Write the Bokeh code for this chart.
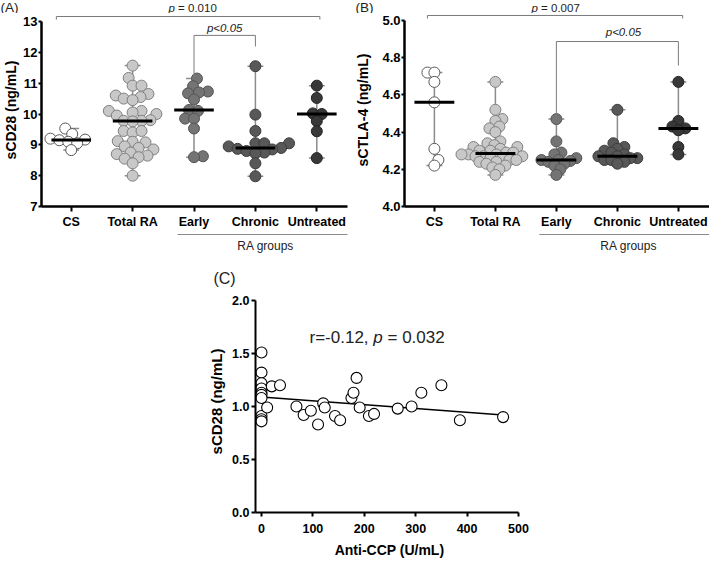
import numpy as np
from bokeh.plotting import figure
from bokeh.models import FixedTicker, PrintfTickFormatter, Label, Range1d, Spacer
from bokeh.layouts import column, row
from bokeh.embed import file_html
from bokeh.resources import INLINE

# ---------------- data ----------------
CATEGORIES = ["CS", "Total RA", "Early", "Chronic", "Untreated"]

# Panel A: sCD28 (ng/mL)
A_CS = [9.53, 9.35, 9.20, 9.17, 9.15, 9.10, 9.05, 8.83]
A_TOTAL = [11.57, 11.17, 10.92, 10.92, 10.65, 10.60, 10.55, 10.50, 10.45, 10.10, 10.10,
           10.05, 10.00, 9.95, 9.80, 9.78, 9.78, 9.76, 9.45, 9.40, 9.45, 9.10, 9.08, 9.12,
           8.95, 8.90, 8.85, 8.75, 8.70, 8.65, 8.60, 8.55, 8.40, 8.00]
A_EARLY = [11.15, 10.90, 10.73, 10.70, 10.67, 10.47, 10.13, 10.10, 9.85, 9.85, 9.53, 8.63, 8.60]
A_CHRONIC = [11.55, 9.98, 9.45, 9.05, 9.05, 9.05, 8.95, 8.90, 8.87, 8.85, 8.80, 8.75, 8.72, 8.40, 7.98]
A_UNTREATED = [10.92, 10.52, 10.02, 10.00, 9.77, 9.44, 8.57]

# Panel B: sCTLA-4 (ng/mL)
B_CS = [4.72, 4.72, 4.67, 4.56, 4.31, 4.25, 4.22]
B_TOTAL = [4.67, 4.52, 4.47, 4.46, 4.43, 4.42, 4.40, 4.35, 4.34, 4.33, 4.32, 4.32, 4.31,
           4.30, 4.30, 4.29, 4.29, 4.28, 4.28, 4.28, 4.27, 4.27, 4.27, 4.26, 4.26, 4.25,
           4.25, 4.24, 4.24, 4.23, 4.22, 4.21, 4.20, 4.17]
B_EARLY = [4.47, 4.35, 4.29, 4.28, 4.26, 4.25, 4.25, 4.245, 4.24, 4.23, 4.22, 4.20, 4.17]
B_CHRONIC = [4.52, 4.34, 4.32, 4.31, 4.30, 4.29, 4.28, 4.27, 4.27, 4.26, 4.26, 4.25, 4.25, 4.24, 4.23]
B_UNTREATED = [4.67, 4.46, 4.43, 4.42, 4.41, 4.32, 4.28]

# Panel C: sCD28 vs Anti-CCP
ANTI_CCP = [0, 0, 0, 0, 0, 0, 0, 0, 0, 0,
            11, 20, 36, 68, 82, 96, 110, 120, 123, 143, 153, 175, 179, 185, 191,
            209, 219, 265, 292, 311, 350, 386, 470]
SCD28_C = [1.51, 1.32, 1.22, 1.17, 1.13, 1.11, 1.08, 0.91, 0.88, 0.86,
           0.99, 1.19, 1.20, 1.00, 0.92, 0.96, 0.83, 1.03, 0.99, 0.91, 0.87, 1.08, 1.13, 1.27, 0.99,
           0.91, 0.93, 0.98, 1.00, 1.13, 1.20, 0.87, 0.90]
REG_INTERCEPT = 1.09
REG_SLOPE = -0.00036
REG_X_MAX = 470

A_P_ALL = "0.010"
B_P_ALL = "0.007"
C_STAT_R = "-0.12"
C_STAT_P = "0.032"

# ---------------- styles ----------------
FONT = "Liberation Sans"
TXT = "#222222"
FILLS = ["#ffffff", "#c8c8c8", "#747474", "#585858", "#383838"]
LINES = ["#5a5a5a", "#808080", "#555555", "#3c3c3c", "#222222"]
RANGE_COLOR = "#8c8c8c"
BRACKET_COLOR = "#7a7a7a"


def swarm(vals, px_x, px_y, dist):
    vals = np.asarray(vals, dtype=float)
    order = np.argsort(vals)
    placed = []
    offs = np.zeros(len(vals))
    for n, i in enumerate(order):
        y = vals[i] * px_y
        best = None
        for k in range(0, 300):
            cands = [0.0] if k == 0 else ([k, -k] if n % 2 else [-k, k])
            for s in cands:
                if all((s - xp) ** 2 + (y - yp) ** 2 >= dist ** 2 for xp, yp in placed):
                    best = s
                    break
            if best is not None:
                break
        placed.append((best, y))
        offs[i] = best / px_x
    return offs


def style_axes(p, line_w):
    for ax in list(p.xaxis) + list(p.yaxis):
        ax.axis_line_width = line_w
        ax.axis_line_color = "black"
        ax.major_tick_line_width = 2
        ax.major_tick_line_color = "black"
        ax.major_tick_out = 4
        ax.major_tick_in = 0
        ax.minor_tick_line_color = None
        ax.major_label_text_font = FONT
        ax.major_label_text_font_style = "bold"
        ax.major_label_text_color = "black"
        ax.axis_label_text_font = FONT
        ax.axis_label_text_font_style = "bold"
        ax.axis_label_text_color = "black"
    p.xgrid.visible = False
    p.ygrid.visible = False
    p.outline_line_color = None


def strip(width, height, x_range):
    s = figure(width=width, height=height, x_range=x_range, y_range=Range1d(height, 0),
               output_backend="svg", toolbar_location=None, x_axis_location=None, y_axis_location=None,
               min_border=0)
    s.xgrid.visible = False
    s.ygrid.visible = False
    s.outline_line_color = None
    return s


def group_panel(p, groups, px_x, px_y, dist):
    med_half = 20.0 / px_x
    cap_half = 8.0 / px_x
    for gi, vals in enumerate(groups):
        xc = gi + 1
        lo, hi = min(vals), max(vals)
        p.line([xc, xc], [lo, hi], line_color=RANGE_COLOR, line_width=1.5)
        p.line([xc - cap_half, xc + cap_half], [hi, hi], line_color=RANGE_COLOR, line_width=1.5)
        p.line([xc - cap_half, xc + cap_half], [lo, lo], line_color=RANGE_COLOR, line_width=1.5)
    for gi, vals in enumerate(groups):
        xc = gi + 1
        offs = swarm(vals, px_x, px_y, dist)
        p.scatter(xc + offs, vals, size=11, fill_color=FILLS[gi], line_color=LINES[gi], line_width=1)
    for gi, vals in enumerate(groups):
        xc = gi + 1
        med = float(np.median(vals))
        p.line([xc - med_half, xc + med_half], [med, med], line_color="black", line_width=3)


def label(p, x, y, text, size, style="normal", align="left", off=0):
    p.add_layout(Label(x=x, y=y, text=text, text_font=FONT, text_font_size=size, text_font_style=style,
                       text_baseline="middle", text_align=align, x_offset=off, text_color=TXT))


def setup_group_axes(p, ticks, fmt, bounds, ylabel, label_standoff):
    style_axes(p, 2.5)
    p.yaxis.ticker = FixedTicker(ticks=ticks)
    p.yaxis.formatter = PrintfTickFormatter(format=fmt)
    p.yaxis.bounds = bounds
    p.yaxis.axis_label = ylabel
    p.yaxis.axis_label_text_font_size = "14px"
    p.yaxis.major_label_text_font_size = "13px"
    p.yaxis.major_label_standoff = 1
    p.yaxis.axis_label_standoff = label_standoff
    p.yaxis.major_tick_out = 3
    p.xaxis.ticker = FixedTicker(ticks=[1, 2, 3, 4, 5])
    p.xaxis.major_label_overrides = {i + 1: c for i, c in enumerate(CATEGORIES)}
    p.xaxis.major_label_text_font_size = "12.5px"
    p.xaxis.major_tick_out = 5
    p.xaxis.major_label_standoff = 3


# ---------------- top strip: panel letters and overall p values ----------------
top = strip(709, 13, Range1d(0, 709))
label(top, 0, 6.5, "(A)", "13.5px")
label(top, 355, 6.5, "(B)", "13.5px")
label(top, 168, 7, "p", "11.5px", "italic")
label(top, 168, 7, "= " + A_P_ALL, "11.5px", off=9.6)
label(top, 531, 7, "p", "11.5px", "italic")
label(top, 531, 7, "= " + B_P_ALL, "11.5px", off=9.6)

# ---------------- Panel A ----------------
A_PXX, A_PXY = 62.0, 30.83
A_X0, A_X1 = 0.516, 5.50
pA = figure(width=352, height=220, x_range=Range1d(A_X0, A_X1), y_range=Range1d(7, 7 + 193 / A_PXY),
            output_backend="svg", toolbar_location=None, min_border_left=38, min_border_right=5,
            min_border_top=0, min_border_bottom=27)
setup_group_axes(pA, [7, 8, 9, 10, 11, 12, 13], "%d", (7, 13), "sCD28 (ng/mL)", 1)
group_panel(pA, [A_CS, A_TOTAL, A_EARLY, A_CHRONIC, A_UNTREATED], A_PXX, A_PXY, 8.5)

A_TOP = 13.163
A_DROP = 0.1
pA.line([0.758, 5.05], [A_TOP, A_TOP], line_color=BRACKET_COLOR, line_width=1)
pA.line([0.758, 0.758], [A_TOP, A_TOP - A_DROP], line_color=BRACKET_COLOR, line_width=1)
pA.line([5.05, 5.05], [A_TOP, A_TOP - A_DROP], line_color=BRACKET_COLOR, line_width=1)
A_PAIR = 12.55
pA.line([3, 3, 4, 4], [max(A_EARLY), A_PAIR, A_PAIR, 12.19], line_color=BRACKET_COLOR, line_width=1)
label(pA, 3.5, 12.78, "p<0.05", "11.5px", "italic", "center")

# ---------------- Panel B ----------------
B_PXX, B_PXY = 61.2, 186.0
B_X0, B_X1 = 0.51, 5.51
pB = figure(width=357, height=220, x_range=Range1d(B_X0, B_X1), y_range=Range1d(4.0, 4.0 + 193 / B_PXY),
            output_backend="svg", toolbar_location=None, min_border_left=51, min_border_right=0,
            min_border_top=0, min_border_bottom=27)
setup_group_axes(pB, [4.0, 4.2, 4.4, 4.6, 4.8, 5.0], "%.1f", (4.0, 5.0), "sCTLA-4 (ng/mL)", 8)
group_panel(pB, [B_CS, B_TOTAL, B_EARLY, B_CHRONIC, B_UNTREATED], B_PXX, B_PXY, 6.5)

B_TOP = 5.027
B_DROP = 0.016
pB.line([0.886, 5.07], [B_TOP, B_TOP], line_color=BRACKET_COLOR, line_width=1)
pB.line([0.886, 0.886], [B_TOP, B_TOP - B_DROP], line_color=BRACKET_COLOR, line_width=1)
pB.line([5.07, 5.07], [B_TOP, B_TOP - B_DROP], line_color=BRACKET_COLOR, line_width=1)
B_PAIR = 4.887
pB.line([3, 3, 5, 5], [max(B_EARLY), B_PAIR, B_PAIR, 4.758], line_color=BRACKET_COLOR, line_width=1)
label(pB, 4.1, 4.94, "p<0.05", "11.5px", "italic", "center")

# ---------------- "RA groups" strips ----------------
sA = strip(352, 32, Range1d(A_X0 - 38 / A_PXX, A_X1 + 5 / A_PXX))
sA.line([3 - 0.24, 5 + 0.5], [1, 1], line_color="#8a8a8a", line_width=1)
label(sA, 4.18, 12, "RA groups", "12px", align="center")
sB = strip(357, 32, Range1d(B_X0 - 51 / B_PXX, B_X1))
sB.line([3 - 0.27, 5 + 0.51], [1, 1], line_color="#8a8a8a", line_width=1)
label(sB, 4.19, 12, "RA groups", "12px", align="center")

# ---------------- Panel C ----------------
C_PXX, C_PXY = 0.514, 106.0
c_start = -6 / C_PXX
sC = strip(709, 25, Range1d(0, 709))
label(sC, 224, 13, "(C)", "16px", align="center")

pC = figure(width=345, height=274, x_range=Range1d(c_start, c_start + 268 / C_PXX),
            y_range=Range1d(0, 222 / C_PXY),
            output_backend="svg", toolbar_location=None, min_border_left=55, min_border_right=22,
            min_border_top=0, min_border_bottom=52)
style_axes(pC, 2)
pC.xaxis.ticker = FixedTicker(ticks=[0, 100, 200, 300, 400, 500])
pC.xaxis.bounds = (c_start, 500)
pC.yaxis.ticker = FixedTicker(ticks=[0, 0.5, 1.0, 1.5, 2.0])
pC.yaxis.formatter = PrintfTickFormatter(format="%.1f")
pC.yaxis.bounds = (0, 2)
pC.xaxis.axis_label = "Anti-CCP (U/mL)"
pC.yaxis.axis_label = "sCD28 (ng/mL)"
pC.xaxis.axis_label_text_font_size = "14px"
pC.yaxis.axis_label_text_font_size = "15px"
pC.xaxis.major_label_text_font_size = "12.5px"
pC.yaxis.major_label_text_font_size = "12.5px"
pC.yaxis.major_label_standoff = 2
pC.yaxis.axis_label_standoff = 4
pC.xaxis.major_label_standoff = 7
pC.xaxis.axis_label_standoff = 6

pC.line([0, REG_X_MAX], [REG_INTERCEPT, REG_INTERCEPT + REG_SLOPE * REG_X_MAX], line_color="black", line_width=1.5)
pC.scatter(ANTI_CCP, SCD28_C, size=11, fill_color="white", line_color="black", line_width=1.1)

cx, cy = 93.4, 1.65
label(pC, cx, cy, "r=" + C_STAT_R + ",", "17px")
label(pC, cx, cy, "p", "17px", "italic", off=63.8)
label(pC, cx, cy, "= " + C_STAT_P, "17px", off=78.0)

layout = column(top, row(pA, pB), row(sA, sB), sC,
                row(Spacer(width=200, height=274), pC))

open("out.html", "w").write(file_html(layout, INLINE))
